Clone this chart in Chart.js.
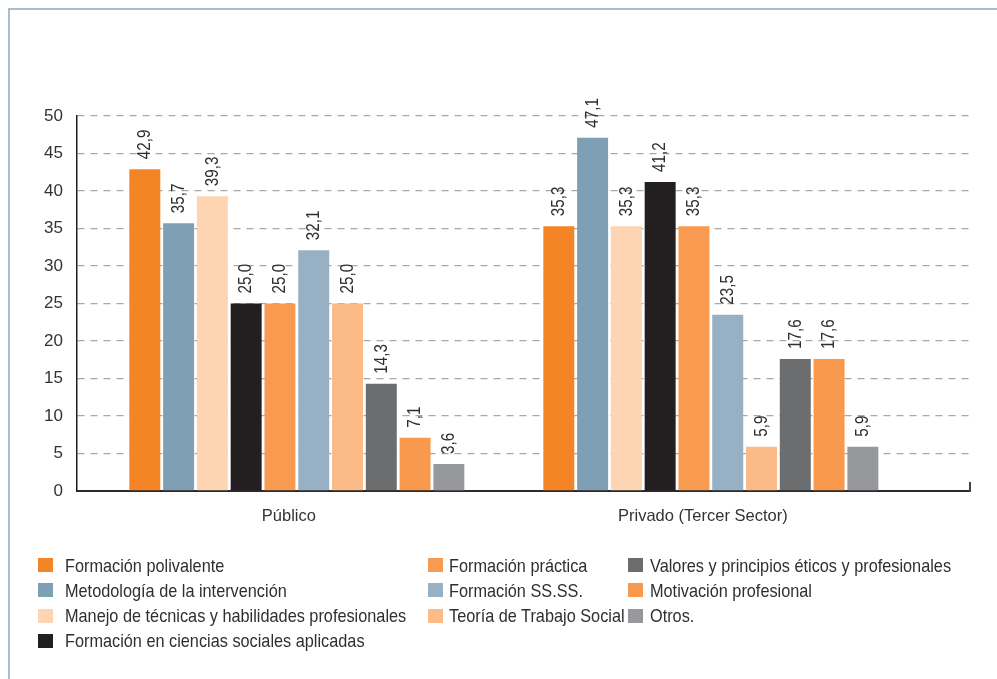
<!DOCTYPE html>
<html lang="es">
<head>
<meta charset="utf-8">
<title>Formación valorada por ámbito</title>
<script src="https://cdn.jsdelivr.net/npm/chart.js@4/dist/chart.umd.min.js"></script>
<style>
  html, body { margin: 0; padding: 0; background: #fff; }
  #wrap { position: relative; width: 997px; height: 679px; overflow: hidden; }
  #frame { position: absolute; left: 8px; top: 8px; right: -4px; bottom: -4px;
           border-top: 2px solid #a9bfd0; border-left: 2px solid #a9bfd0; }
  #plot { position: absolute; left: 0; top: 0; width: 997px; height: 679px; }
  .lg-box { position: absolute; width: 15px; height: 14px; }
  .lg-text { position: absolute; height: 25px; line-height: 25px;
             font-family: "Liberation Sans", Arial, sans-serif;
             font-size: 18.5px; color: #2f2f2f; white-space: nowrap;
             transform: scaleX(0.88); transform-origin: left center; }
</style>
</head>
<body>
<div id="wrap">
  <div id="frame"></div>
  <div id="plot"><canvas id="chart"></canvas></div>
  <div id="legend"></div>
</div>
<script>
// Ámbitos (categorías del eje X)
const categories = ['Público', 'Privado (Tercer Sector)'];

// Aspectos formativos (series)
const seriesNames = [
  'Formación polivalente',
  'Metodología de la intervención',
  'Manejo de técnicas y habilidades profesionales',
  'Formación en ciencias sociales aplicadas',
  'Formación práctica',
  'Formación SS.SS.',
  'Teoría de Trabajo Social',
  'Valores y principios éticos y profesionales',
  'Motivación profesional',
  'Otros.'
];

// Porcentajes por ámbito, en el orden de seriesNames
const publicoValues = [42.9, 35.7, 39.3, 25.0, 25.0, 32.1, 25.0, 14.3, 7.1, 3.6];
const privadoValues = [35.3, 47.1, 35.3, 41.2, 35.3, 23.5, 5.9, 17.6, 17.6, 5.9];

// Marcas del eje Y
const yTicks = [0, 5, 10, 15, 20, 25, 30, 35, 40, 45, 50];

const seriesColors = [
  '#f58426', '#7fa0b4', '#fdd5b2', '#231f20', '#f89a50',
  '#97b0c3', '#fabb88', '#6c6d6f', '#f8994e', '#97989b'
];

// Número de entradas de leyenda por columna
const legendColumns = [4, 3, 3];

const FONT = '"Liberation Sans", Arial, sans-serif';
const TEXT = '#333333';

const datasets = seriesNames.map((name, i) => ({
  label: name,
  data: [
    { x: 0, y: publicoValues[i] },
    { x: 1, y: privadoValues[i] }
  ],
  backgroundColor: seriesColors[i],
  borderWidth: 0,
  categoryPercentage: 0.816,
  barPercentage: 0.917
}));

// Etiquetas de valor verticales sobre cada barra
const valueLabels = {
  id: 'valueLabels',
  afterDatasetsDraw(chart) {
    const ctx = chart.ctx;
    ctx.save();
    ctx.font = '19px ' + FONT;
    ctx.fillStyle = '#2e2e2e';
    ctx.textAlign = 'left';
    ctx.textBaseline = 'middle';
    chart.data.datasets.forEach((ds, di) => {
      const meta = chart.getDatasetMeta(di);
      meta.data.forEach((bar, j) => {
        const v = ds.data[j].y;
        const txt = v.toFixed(1).replace('.', ',');
        ctx.save();
        ctx.translate(bar.x, bar.y - 10);
        ctx.rotate(-Math.PI / 2);
        ctx.scale(0.8, 1);
        ctx.fillText(txt, 0, 0);
        ctx.restore();
      });
    });
    ctx.restore();
  }
};

// Pequeña marca vertical al final del eje X
const axisEndTick = {
  id: 'axisEndTick',
  afterDraw(chart) {
    const { ctx, chartArea } = chart;
    ctx.save();
    ctx.strokeStyle = '#444';
    ctx.lineWidth = 2;
    ctx.beginPath();
    ctx.moveTo(chartArea.right, chartArea.bottom + 1);
    ctx.lineTo(chartArea.right, chartArea.bottom - 9);
    ctx.stroke();
    ctx.restore();
  }
};

const chart = new Chart(document.getElementById('chart'), {
  type: 'bar',
  data: { datasets },
  options: {
    responsive: true,
    maintainAspectRatio: false,
    animation: false,
    layout: { padding: { top: 116, right: 27, left: 0, bottom: 0 } },
    plugins: {
      legend: { display: false },
      tooltip: { enabled: false }
    },
    scales: {
      x: {
        type: 'linear',
        offset: false,
        bounds: 'data',
        min: -0.531,
        max: 1.626,
        afterBuildTicks(scale) {
          scale.ticks = categories.map((_, i) => ({ value: i }));
        },
        afterFit(scale) { scale.height = 188; },
        grid: { display: false, drawTicks: false, offset: false },
        border: { display: true, color: '#2a2a2a', width: 2 },
        ticks: {
          padding: 16,
          labelOffset: -8,
          color: TEXT,
          font: { family: FONT, size: 16.5 },
          callback: (value) => categories[value] ?? ''
        }
      },
      y: {
        min: 0,
        max: 50,
        afterBuildTicks(scale) {
          scale.ticks = yTicks.map(v => ({ value: v }));
        },
        afterFit(scale) { scale.width = 77; },
        grid: { color: '#a8a8a8', lineWidth: 1.3, drawTicks: false },
        border: { display: true, color: '#1e1e1e', width: 1.5, dash: [7, 6] },
        ticks: {
          padding: 14,
          color: TEXT,
          font: { family: FONT, size: 17 },
          callback: (v) => String(v)
        }
      }
    }
  },
  plugins: [valueLabels, axisEndTick]
});

// Leyenda en tres columnas, construida desde los datasets del gráfico
(function buildLegend() {
  const host = document.getElementById('legend');
  const boxX = [38, 428, 628];
  const textX = [65, 449, 650];
  const firstRowTop = 552.5;
  const rowStep = 25.3;
  let idx = 0;
  legendColumns.forEach((count, c) => {
    for (let r = 0; r < count; r++, idx++) {
      const ds = chart.data.datasets[idx];
      const top = firstRowTop + r * rowStep;
      const box = document.createElement('div');
      box.className = 'lg-box';
      box.style.left = boxX[c] + 'px';
      box.style.top = (top + 5.5) + 'px';
      box.style.background = ds.backgroundColor;
      const label = document.createElement('div');
      label.className = 'lg-text';
      label.style.left = textX[c] + 'px';
      label.style.top = top + 'px';
      label.textContent = ds.label;
      host.appendChild(box);
      host.appendChild(label);
    }
  });
})();
</script>
</body>
</html>
